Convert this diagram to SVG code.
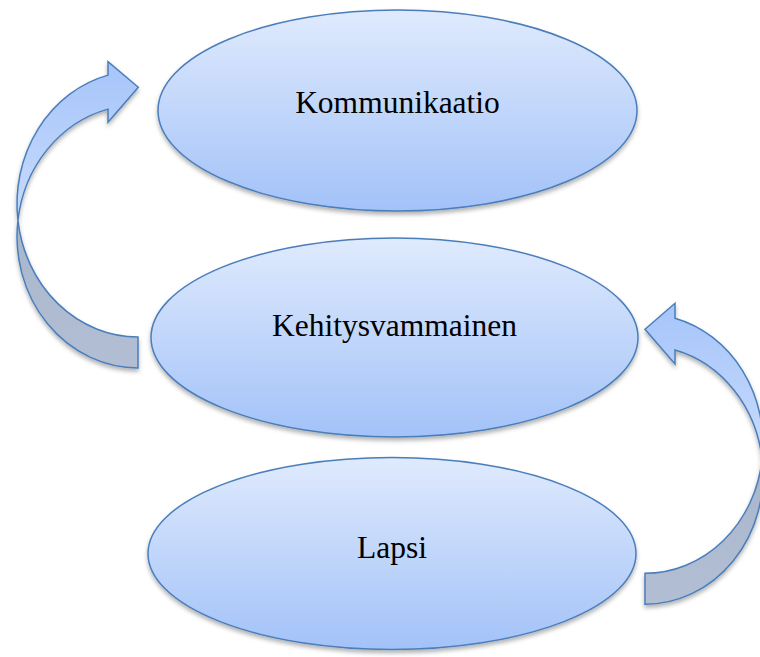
<svg xmlns="http://www.w3.org/2000/svg" width="760" height="657" viewBox="0 0 760 657">
  <defs>
    <linearGradient id="gEll" x1="0" y1="0" x2="0" y2="1">
      <stop offset="0" stop-color="#dfeafd"/>
      <stop offset="1" stop-color="#a3c2f8"/>
    </linearGradient>
    <linearGradient id="gArrow" x1="0" y1="0" x2="0" y2="1">
      <stop offset="0" stop-color="#a6c5fa"/>
      <stop offset="1" stop-color="#c8dbfc"/>
    </linearGradient>
    <linearGradient id="gBack" x1="0" y1="0" x2="0" y2="1">
      <stop offset="0" stop-color="#a8b6cd"/>
      <stop offset="1" stop-color="#b2bed3"/>
    </linearGradient>
    <filter id="shadow" x="-10%" y="-10%" width="120%" height="125%">
      <feDropShadow dx="0" dy="3" stdDeviation="2" flood-color="#000" flood-opacity="0.3"/>
    </filter>
  </defs>
  <style>
    .node ellipse { fill: url(#gEll); stroke: #4a7ebb; stroke-width: 1.5; filter: url(#shadow); }
    .node text { font-family: "Liberation Serif", "Times New Roman", serif; font-size: 31.5px; fill: #000; text-anchor: middle; }
    .front { fill: url(#gArrow); stroke: #4a7ebb; stroke-width: 1.5; stroke-linejoin: miter; }
    .back { fill: url(#gBack); stroke: #4a7ebb; stroke-width: 1.5; }
    .arrow { filter: url(#shadow); }
  </style>
  <rect width="760" height="657" fill="#ffffff"/>

  <g id="connectors">
    <g id="arrow-left" class="arrow">
      <path class="back" d="M17.92,220.34 A121,131.5 0 0 0 138,368 L138,337 A121,133 0 0 1 17.92,220.34 Z"/>
      <path class="front" d="M108,75.15 A121,133 0 0 0 17.92,220.34 A121,131.5 0 0 1 108,109.1 L108,122.3 L138.3,87.3 L108,61.7 Z"/>
    </g>
    <g id="arrow-right" class="arrow">
      <path class="back" d="M762.13,459.37 A118,129.27 0 0 1 645,604.3 L645,573.3 A118,129.63 0 0 0 762.13,459.37 Z"/>
      <path class="front" d="M675,318.3 A118,129.63 0 0 1 762.13,459.37 A118,129.27 0 0 0 675,350 L675,364 L645,329.3 L675,303.3 Z"/>
    </g>
  </g>

  <g id="node-kommunikaatio" class="node">
    <ellipse cx="397.5" cy="110.5" rx="239.5" ry="100.5"/>
    <text x="397.5" y="113">Kommunikaatio</text>
  </g>
  <g id="node-kehitysvammainen" class="node">
    <ellipse cx="394.5" cy="337.5" rx="243.5" ry="99.5"/>
    <text x="394.5" y="336">Kehitysvammainen</text>
  </g>
  <g id="node-lapsi" class="node">
    <ellipse cx="392" cy="553.5" rx="244" ry="96"/>
    <text x="392" y="558">Lapsi</text>
  </g>
</svg>
